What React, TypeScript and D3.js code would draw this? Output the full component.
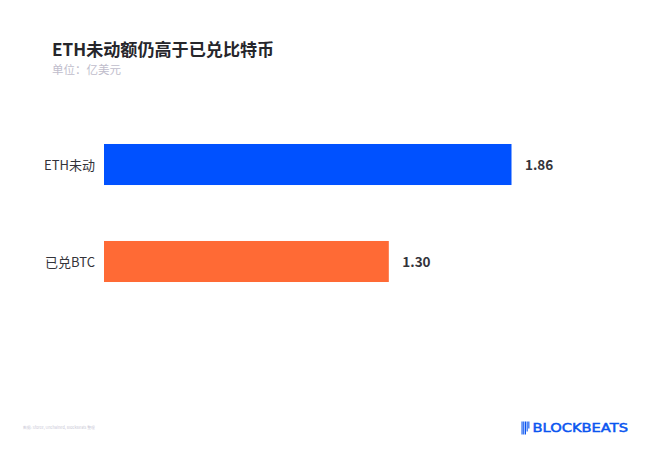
import React from 'react';
import * as d3 from 'd3';

const categories = ['ETH未动', '已兑BTC'];
const values = [1.86, 1.3];
const colors = ['#0051ff', '#ff6a35'];
const title = 'ETH未动额仍高于已兑比特币';
const subtitle = '单位：亿美元';
const source = '数据: Sforce, Unchained, BlockBeats 整理';
const logoText = 'BLOCKBEATS';
// heights of the little bars in the logo icon
const logoBars = [13, 13, 13, 10, 7];

const width = 650;
const height = 449;
const cjk = '"Noto Sans CJK SC", "Noto Sans", sans-serif';

export default function App() {
  const x = d3.scaleLinear().domain([0, 1.86]).range([104, 511.5]);
  const y = d3.scaleBand().domain(categories).range([95.5, 330.5]).paddingInner(0.577).paddingOuter(0.5);

  return (
    <svg
      width={width}
      height={height}
      viewBox={`0 0 ${width} ${height}`}
      style={{ position: 'absolute', left: 0, top: 0, display: 'block', background: '#fff' }}
    >
      <text x={52} y={55.5} fontFamily={cjk} fontSize={17.1} fontWeight={700} fill="#26262b">{title}</text>
      <text x={52} y={74} fontFamily={cjk} fontSize={11.5} fill="#c0bdcc">{subtitle}</text>

      {categories.map((c, i) => {
        const by = y(c) ?? 0;
        const cy = by + y.bandwidth() / 2;
        return (
          <g key={c}>
            <rect x={x(0)} y={by} width={x(values[i]) - x(0)} height={y.bandwidth()} fill={colors[i]} />
            <text x={95} y={cy + 0.6} dy="0.36em" textAnchor="end" fontFamily={cjk} fontSize={13} fill="#33333a">{c}</text>
            <text x={x(values[i]) + 13.5} y={cy + 0.6} dy="0.36em" fontFamily={cjk} fontSize={13.5} fontWeight={700} fill="#33333a">
              {values[i].toFixed(2)}
            </text>
          </g>
        );
      })}

      <text x={23} y={429} fontFamily={cjk} fontSize={3.8} fill="#c9c8d6">{source}</text>

      <g fill="#0a55f0">
        {logoBars.map((h, i) => (
          <rect key={i} x={521.5 + i * 1.7} y={421.5} width={1.1} height={h} />
        ))}
      </g>
      <text
        x={532.5}
        y={432}
        fontFamily='"DejaVu Sans", sans-serif'
        fontSize={12.5}
        fontWeight={400}
        stroke="#0a55f0"
        strokeWidth={0.5}
        textLength={95.5}
        lengthAdjust="spacingAndGlyphs"
        fill="#0a55f0"
      >
        {logoText}
      </text>
    </svg>
  );
}
